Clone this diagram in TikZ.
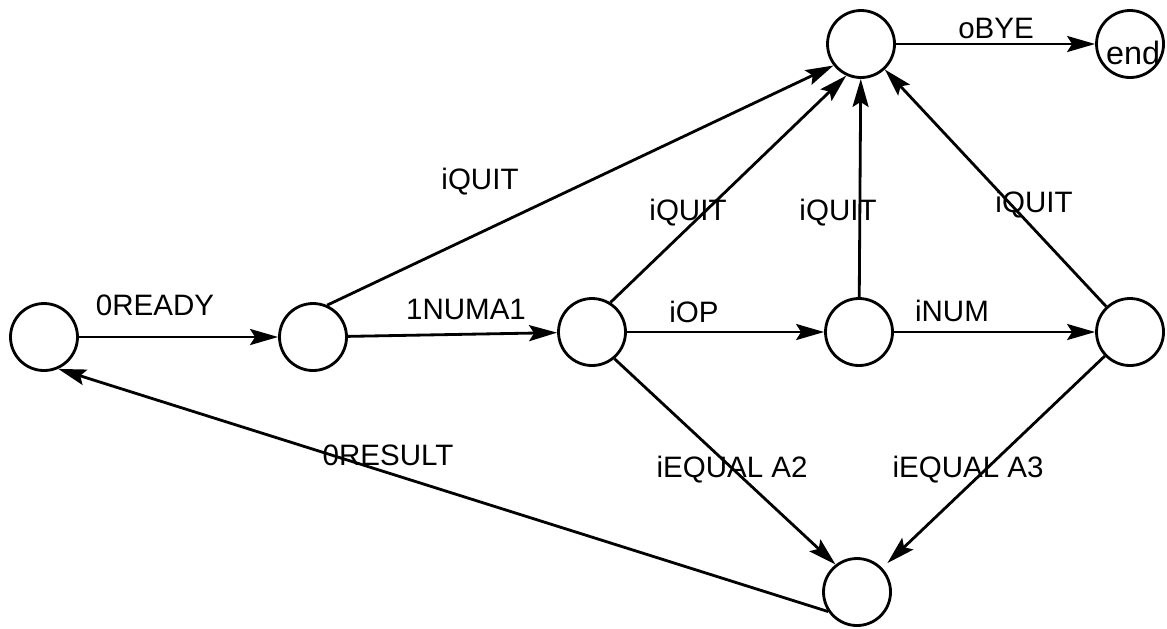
\documentclass[tikz,border=0pt]{standalone}
\usepackage{fontspec}
\setmainfont{Liberation Sans}
\usetikzlibrary{arrows.meta}

\begin{document}
\begin{tikzpicture}[
>={Stealth[length=2.8mm,width=1.6mm,inset=0.5mm]},line width=0.8pt,
state/.style={draw,circle,minimum size=6.7mm,inner sep=0pt},
trans/.style={->},
lbl/.style={font=\fontsize{8.4}{10}\selectfont,inner sep=0pt}]

  \useasboundingbox (0, 0) rectangle (11.67, 6.28);

  % states
  \node [state] (s0)  at (0.44, 2.91) {};
  \node [state] (s1)  at (3.13, 2.91) {};
  \node [state] (s2)  at (5.92, 2.96) {};
  \node [state] (s3)  at (8.59, 2.96) {};
  \node [state] (s4)  at (11.30, 2.96) {};
  \node [state] (top) at (8.61, 5.84) {};
  \node [state] (fin) at (11.30, 5.84) {};
  \node [state] (bot) at (8.57, 0.36) {};
  \node [lbl, font=\fontsize{9.2}{10}\selectfont] (fin-txt) at (11.33, 5.75) {end};

  % main line
  \draw [trans] (s0) -- (s1);
  \draw [trans] (s1) -- (s2);
  \draw [trans] (s2) -- (s3);
  \draw [trans] (s3) -- (s4);

  % quit
  \draw [trans] (s1.66) -- (top.218);
  \draw [trans] (s2.58) -- (top.245);
  \draw [trans] (s3) -- (top);
  \draw [trans] (s4) -- (top);
  \draw [trans] (top) -- (fin);

  % equal / result
  \draw [trans] (s2.310) -- (bot.128);
  \draw [trans, shorten >=2pt] (s4) -- (bot);
  \draw [trans] (bot.214) -- (s0.294);

  % labels
  \node [lbl] (l-ready)  at (1.55, 3.23) {0READY};
  \node [lbl] (l-numa1)  at (4.66, 3.19) {1NUMA1};
  \node [lbl] (l-op)     at (6.94, 3.16) {iOP};
  \node [lbl] (l-num)    at (9.52, 3.17) {iNUM};
  \node [lbl] (l-quit1)  at (4.80, 4.46) {iQUIT};
  \node [lbl] (l-quit2)  at (6.88, 4.15) {iQUIT};
  \node [lbl] (l-quit3)  at (8.38, 4.15) {iQUIT};
  \node [lbl] (l-quit4)  at (10.34, 4.23) {iQUIT};
  \node [lbl] (l-bye)    at (9.96, 6.00) {oBYE};
  \node [lbl] (l-result) at (3.88, 1.73) {0RESULT};
  \node [lbl] (l-eq2)    at (7.32, 1.58) {iEQUAL A2};
  \node [lbl] (l-eq3)    at (9.68, 1.58) {iEQUAL A3};
\end{tikzpicture}
\end{document}
